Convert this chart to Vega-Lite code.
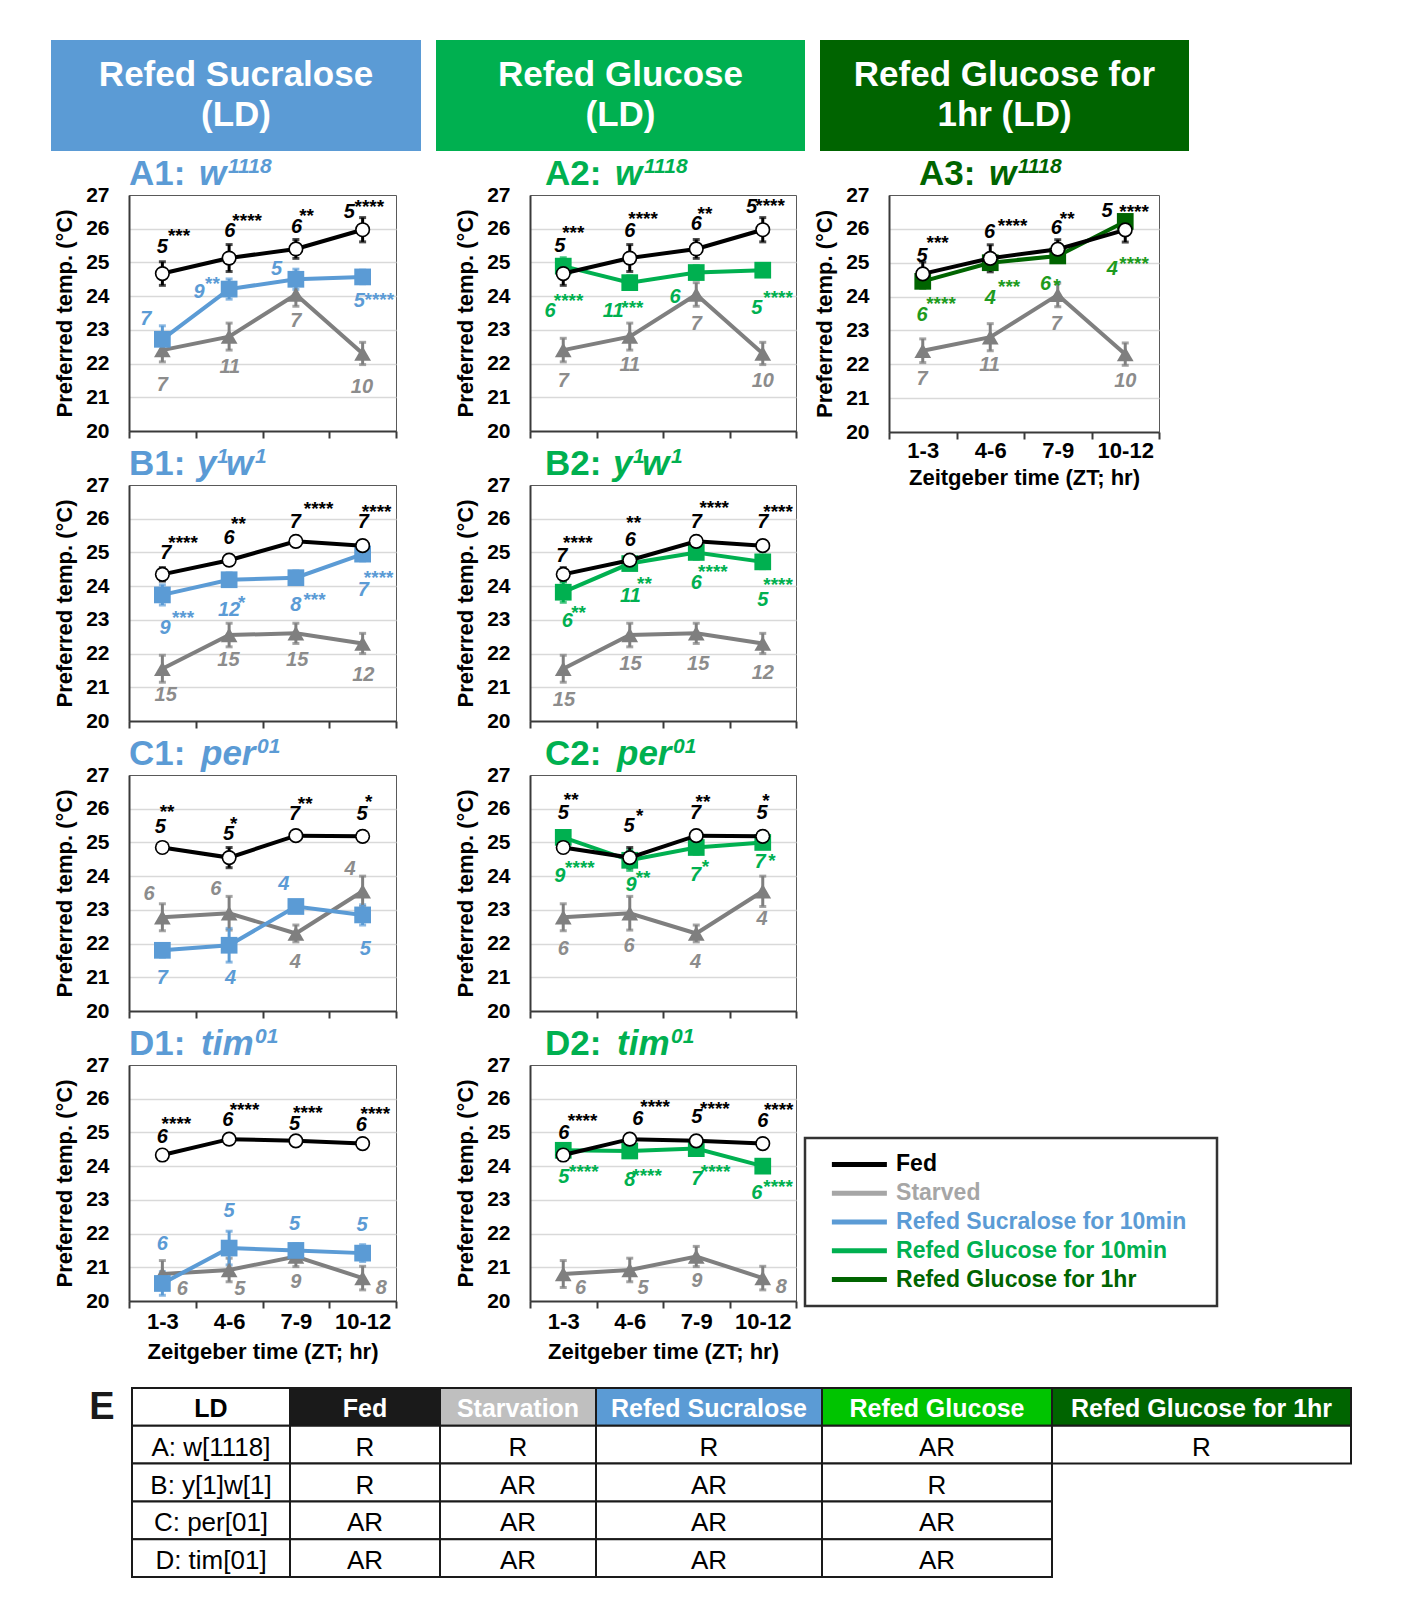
{
"$schema": "https://vega.github.io/schema/vega-lite/v6.json",
"background": "white",
"padding": {"left": 51, "top": 40, "right": 0, "bottom": 0},
"config": {
  "font": "Liberation Sans",
  "view": {"stroke": "#595959", "strokeWidth": 1},
  "axis": {"labelFont": "Liberation Sans", "titleFont": "Liberation Sans", "labelFontWeight": "bold", "titleFontWeight": "bold", "labelColor": "#000000", "titleColor": "#000000", "domainColor": "#3a3a3a", "domainWidth": 2},
  "axisY": {"labelFontSize": 21, "titleFontSize": 22, "labelPadding": 20, "ticks": false, "tickSize": 0, "grid": true, "gridColor": "#d9d9d9", "gridWidth": 1.5, "titleAngle": 270, "titleBaseline": "bottom", "titlePadding": 0},
  "axisX": {"labelFontSize": 22, "titleFontSize": 22, "labelPadding": 3, "ticks": true, "tickSize": 7, "tickWidth": 2, "tickColor": "#3a3a3a", "grid": false, "labelFlush": false, "labelOverlap": false, "labelAngle": 0, "labelBaseline": "top"}
},
"datasets": {
"all": [
{"p":"A1","k":"pt","s":"Fed","x":1,"y":24.67,"e":0.35},
{"p":"A1","k":"pt","s":"Fed","x":2,"y":25.13,"e":0.4},
{"p":"A1","k":"pt","s":"Fed","x":3,"y":25.4,"e":0.28},
{"p":"A1","k":"pt","s":"Fed","x":4,"y":25.97,"e":0.36},
{"p":"A1","k":"pt","s":"Starved","x":1,"y":22.4,"e":0.35},
{"p":"A1","k":"pt","s":"Starved","x":2,"y":22.8,"e":0.4},
{"p":"A1","k":"pt","s":"Starved","x":3,"y":24.05,"e":0.35},
{"p":"A1","k":"pt","s":"Starved","x":4,"y":22.3,"e":0.33},
{"p":"A1","k":"pt","s":"Sucralose","x":1,"y":22.72,"e":0.4},
{"p":"A1","k":"pt","s":"Sucralose","x":2,"y":24.21,"e":0.3},
{"p":"A1","k":"pt","s":"Sucralose","x":3,"y":24.5,"e":0.3},
{"p":"A1","k":"pt","s":"Sucralose","x":4,"y":24.57,"e":0.2},
{"p":"A1","k":"n","s":"Fed","x":1.0,"y":25.45,"txt":"5"},
{"p":"A1","k":"n","s":"Fed","x":2.01,"y":25.94,"txt":"6"},
{"p":"A1","k":"n","s":"Fed","x":3.01,"y":26.06,"txt":"6"},
{"p":"A1","k":"n","s":"Fed","x":3.8,"y":26.49,"txt":"5"},
{"p":"A1","k":"st","s":"Fed","x":1.25,"y":25.94,"txt":"***"},
{"p":"A1","k":"st","s":"Fed","x":2.27,"y":26.39,"txt":"****"},
{"p":"A1","k":"st","s":"Fed","x":3.16,"y":26.53,"txt":"**"},
{"p":"A1","k":"st","s":"Fed","x":4.1,"y":26.78,"txt":"****"},
{"p":"A1","k":"n","s":"Sucralose","x":0.75,"y":23.32,"txt":"7"},
{"p":"A1","k":"n","s":"Sucralose","x":1.55,"y":24.11,"txt":"9"},
{"p":"A1","k":"n","s":"Sucralose","x":2.71,"y":24.8,"txt":"5"},
{"p":"A1","k":"n","s":"Sucralose","x":3.95,"y":23.86,"txt":"5"},
{"p":"A1","k":"st","s":"Sucralose","x":1.75,"y":24.5,"txt":"**"},
{"p":"A1","k":"st","s":"Sucralose","x":4.25,"y":24.03,"txt":"****"},
{"p":"A1","k":"n","s":"Starved","x":1.0,"y":21.37,"txt":"7"},
{"p":"A1","k":"n","s":"Starved","x":2.01,"y":21.91,"txt":"11"},
{"p":"A1","k":"n","s":"Starved","x":3.0,"y":23.27,"txt":"7"},
{"p":"A1","k":"n","s":"Starved","x":3.99,"y":21.31,"txt":"10"},
{"p":"A1","k":"pre","txt":"A1:","x":0.5,"y":27},
{"p":"A1","k":"g","txt":"w","x":0.5,"y":27},
{"p":"A1","k":"sup","txt":"1118","x":0.5,"y":27},

{"p":"A2","k":"pt","s":"Fed","x":1,"y":24.67,"e":0.35},
{"p":"A2","k":"pt","s":"Fed","x":2,"y":25.13,"e":0.4},
{"p":"A2","k":"pt","s":"Fed","x":3,"y":25.4,"e":0.28},
{"p":"A2","k":"pt","s":"Fed","x":4,"y":25.97,"e":0.36},
{"p":"A2","k":"pt","s":"Starved","x":1,"y":22.4,"e":0.35},
{"p":"A2","k":"pt","s":"Starved","x":2,"y":22.8,"e":0.4},
{"p":"A2","k":"pt","s":"Starved","x":3,"y":24.05,"e":0.35},
{"p":"A2","k":"pt","s":"Starved","x":4,"y":22.3,"e":0.33},
{"p":"A2","k":"pt","s":"Glucose","x":1,"y":24.89,"e":0.25},
{"p":"A2","k":"pt","s":"Glucose","x":2,"y":24.4,"e":0.2},
{"p":"A2","k":"pt","s":"Glucose","x":3,"y":24.7,"e":0.2},
{"p":"A2","k":"pt","s":"Glucose","x":4,"y":24.77,"e":0.15},
{"p":"A2","k":"n","s":"Fed","x":0.95,"y":25.49,"txt":"5"},
{"p":"A2","k":"n","s":"Fed","x":2.0,"y":25.94,"txt":"6"},
{"p":"A2","k":"n","s":"Fed","x":3.0,"y":26.14,"txt":"6"},
{"p":"A2","k":"n","s":"Fed","x":3.83,"y":26.63,"txt":"5"},
{"p":"A2","k":"st","s":"Fed","x":1.15,"y":26.02,"txt":"***"},
{"p":"A2","k":"st","s":"Fed","x":2.2,"y":26.43,"txt":"****"},
{"p":"A2","k":"st","s":"Fed","x":3.13,"y":26.58,"txt":"**"},
{"p":"A2","k":"st","s":"Fed","x":4.11,"y":26.81,"txt":"****"},
{"p":"A2","k":"n","s":"Glucose","x":0.8,"y":23.57,"txt":"6"},
{"p":"A2","k":"n","s":"Glucose","x":1.75,"y":23.57,"txt":"11"},
{"p":"A2","k":"n","s":"Glucose","x":2.68,"y":23.97,"txt":"6"},
{"p":"A2","k":"n","s":"Glucose","x":3.91,"y":23.65,"txt":"5"},
{"p":"A2","k":"st","s":"Glucose","x":1.08,"y":24.0,"txt":"****"},
{"p":"A2","k":"st","s":"Glucose","x":2.04,"y":23.8,"txt":"***"},
{"p":"A2","k":"st","s":"Glucose","x":4.23,"y":24.1,"txt":"****"},
{"p":"A2","k":"n","s":"Starved","x":1.0,"y":21.47,"txt":"7"},
{"p":"A2","k":"n","s":"Starved","x":2.0,"y":21.97,"txt":"11"},
{"p":"A2","k":"n","s":"Starved","x":3.0,"y":23.18,"txt":"7"},
{"p":"A2","k":"n","s":"Starved","x":4.0,"y":21.49,"txt":"10"},
{"p":"A2","k":"pre","txt":"A2:","x":0.5,"y":27},
{"p":"A2","k":"g","txt":"w","x":0.5,"y":27},
{"p":"A2","k":"sup","txt":"1118","x":0.5,"y":27},

{"p":"A3","k":"pt","s":"Fed","x":1,"y":24.67,"e":0.35},
{"p":"A3","k":"pt","s":"Fed","x":2,"y":25.13,"e":0.4},
{"p":"A3","k":"pt","s":"Fed","x":3,"y":25.4,"e":0.28},
{"p":"A3","k":"pt","s":"Fed","x":4,"y":25.97,"e":0.36},
{"p":"A3","k":"pt","s":"Starved","x":1,"y":22.4,"e":0.35},
{"p":"A3","k":"pt","s":"Starved","x":2,"y":22.8,"e":0.4},
{"p":"A3","k":"pt","s":"Starved","x":3,"y":24.05,"e":0.35},
{"p":"A3","k":"pt","s":"Starved","x":4,"y":22.3,"e":0.33},
{"p":"A3","k":"pt","s":"Glucose1hr","x":1,"y":24.45,"e":0.2},
{"p":"A3","k":"pt","s":"Glucose1hr","x":2,"y":25.0,"e":0.2},
{"p":"A3","k":"pt","s":"Glucose1hr","x":3,"y":25.2,"e":0.15},
{"p":"A3","k":"pt","s":"Glucose1hr","x":4,"y":26.22,"e":0.15},
{"p":"A3","k":"n","s":"Fed","x":0.99,"y":25.21,"txt":"5"},
{"p":"A3","k":"n","s":"Fed","x":1.99,"y":25.9,"txt":"6"},
{"p":"A3","k":"n","s":"Fed","x":2.98,"y":26.04,"txt":"6"},
{"p":"A3","k":"n","s":"Fed","x":3.73,"y":26.54,"txt":"5"},
{"p":"A3","k":"st","s":"Fed","x":1.22,"y":25.72,"txt":"***"},
{"p":"A3","k":"st","s":"Fed","x":2.33,"y":26.24,"txt":"****"},
{"p":"A3","k":"st","s":"Fed","x":3.14,"y":26.44,"txt":"**"},
{"p":"A3","k":"st","s":"Fed","x":4.13,"y":26.66,"txt":"****"},
{"p":"A3","k":"n","s":"Glucose1hr","x":0.99,"y":23.45,"txt":"6"},
{"p":"A3","k":"n","s":"Glucose1hr","x":2.0,"y":23.97,"txt":"4"},
{"p":"A3","k":"n","s":"Glucose1hr","x":2.82,"y":24.37,"txt":"6"},
{"p":"A3","k":"n","s":"Glucose1hr","x":3.81,"y":24.81,"txt":"4"},
{"p":"A3","k":"st","s":"Glucose1hr","x":1.27,"y":23.92,"txt":"****"},
{"p":"A3","k":"st","s":"Glucose1hr","x":2.28,"y":24.42,"txt":"***"},
{"p":"A3","k":"st","s":"Glucose1hr","x":2.99,"y":24.47,"txt":"*"},
{"p":"A3","k":"st","s":"Glucose1hr","x":4.13,"y":25.1,"txt":"****"},
{"p":"A3","k":"n","s":"Starved","x":0.99,"y":21.56,"txt":"7"},
{"p":"A3","k":"n","s":"Starved","x":1.99,"y":21.97,"txt":"11"},
{"p":"A3","k":"n","s":"Starved","x":2.98,"y":23.18,"txt":"7"},
{"p":"A3","k":"n","s":"Starved","x":4.0,"y":21.51,"txt":"10"},
{"p":"A3","k":"pre","txt":"A3:","x":0.5,"y":27},
{"p":"A3","k":"g","txt":"w","x":0.5,"y":27},
{"p":"A3","k":"sup","txt":"1118","x":0.5,"y":27},

{"p":"B1","k":"pt","s":"Fed","x":1,"y":24.35,"e":0.2},
{"p":"B1","k":"pt","s":"Fed","x":2,"y":24.77,"e":0.15},
{"p":"B1","k":"pt","s":"Fed","x":3,"y":25.33,"e":0.15},
{"p":"B1","k":"pt","s":"Fed","x":4,"y":25.2,"e":0.15},
{"p":"B1","k":"pt","s":"Starved","x":1,"y":21.55,"e":0.4},
{"p":"B1","k":"pt","s":"Starved","x":2,"y":22.55,"e":0.35},
{"p":"B1","k":"pt","s":"Starved","x":3,"y":22.6,"e":0.3},
{"p":"B1","k":"pt","s":"Starved","x":4,"y":22.3,"e":0.3},
{"p":"B1","k":"pt","s":"Sucralose","x":1,"y":23.74,"e":0.3},
{"p":"B1","k":"pt","s":"Sucralose","x":2,"y":24.19,"e":0.2},
{"p":"B1","k":"pt","s":"Sucralose","x":3,"y":24.25,"e":0.2},
{"p":"B1","k":"pt","s":"Sucralose","x":4,"y":24.95,"e":0.2},
{"p":"B1","k":"n","s":"Fed","x":1.05,"y":24.97,"txt":"7"},
{"p":"B1","k":"n","s":"Fed","x":2.0,"y":25.42,"txt":"6"},
{"p":"B1","k":"n","s":"Fed","x":2.99,"y":25.91,"txt":"7"},
{"p":"B1","k":"n","s":"Fed","x":4.01,"y":25.91,"txt":"7"},
{"p":"B1","k":"st","s":"Fed","x":1.31,"y":25.44,"txt":"****"},
{"p":"B1","k":"st","s":"Fed","x":2.14,"y":25.99,"txt":"**"},
{"p":"B1","k":"st","s":"Fed","x":3.34,"y":26.43,"txt":"****"},
{"p":"B1","k":"st","s":"Fed","x":4.21,"y":26.36,"txt":"****"},
{"p":"B1","k":"n","s":"Sucralose","x":1.04,"y":22.75,"txt":"9"},
{"p":"B1","k":"n","s":"Sucralose","x":2.0,"y":23.29,"txt":"12"},
{"p":"B1","k":"n","s":"Sucralose","x":3.0,"y":23.44,"txt":"8"},
{"p":"B1","k":"n","s":"Sucralose","x":4.01,"y":23.88,"txt":"7"},
{"p":"B1","k":"st","s":"Sucralose","x":1.31,"y":23.19,"txt":"***"},
{"p":"B1","k":"st","s":"Sucralose","x":2.19,"y":23.64,"txt":"*"},
{"p":"B1","k":"st","s":"Sucralose","x":3.28,"y":23.74,"txt":"***"},
{"p":"B1","k":"st","s":"Sucralose","x":4.24,"y":24.38,"txt":"****"},
{"p":"B1","k":"n","s":"Starved","x":1.05,"y":20.77,"txt":"15"},
{"p":"B1","k":"n","s":"Starved","x":1.99,"y":21.81,"txt":"15"},
{"p":"B1","k":"n","s":"Starved","x":3.02,"y":21.81,"txt":"15"},
{"p":"B1","k":"n","s":"Starved","x":4.01,"y":21.36,"txt":"12"},
{"p":"B1","k":"pre","txt":"B1:","x":0.5,"y":27},
{"p":"B1","k":"g","txt":"y","x":0.5,"y":27},
{"p":"B1","k":"sup","txt":"1","x":0.5,"y":27},
{"p":"B1","k":"g2","txt":"w","x":0.5,"y":27},
{"p":"B1","k":"sup2","txt":"1","x":0.5,"y":27},

{"p":"B2","k":"pt","s":"Fed","x":1,"y":24.35,"e":0.2},
{"p":"B2","k":"pt","s":"Fed","x":2,"y":24.77,"e":0.15},
{"p":"B2","k":"pt","s":"Fed","x":3,"y":25.33,"e":0.15},
{"p":"B2","k":"pt","s":"Fed","x":4,"y":25.2,"e":0.15},
{"p":"B2","k":"pt","s":"Starved","x":1,"y":21.55,"e":0.4},
{"p":"B2","k":"pt","s":"Starved","x":2,"y":22.55,"e":0.35},
{"p":"B2","k":"pt","s":"Starved","x":3,"y":22.6,"e":0.3},
{"p":"B2","k":"pt","s":"Starved","x":4,"y":22.3,"e":0.3},
{"p":"B2","k":"pt","s":"Glucose","x":1,"y":23.82,"e":0.3},
{"p":"B2","k":"pt","s":"Glucose","x":2,"y":24.67,"e":0.15},
{"p":"B2","k":"pt","s":"Glucose","x":3,"y":25.0,"e":0.2},
{"p":"B2","k":"pt","s":"Glucose","x":4,"y":24.72,"e":0.2},
{"p":"B2","k":"n","s":"Fed","x":0.98,"y":24.89,"txt":"7"},
{"p":"B2","k":"n","s":"Fed","x":2.01,"y":25.37,"txt":"6"},
{"p":"B2","k":"n","s":"Fed","x":3.0,"y":25.89,"txt":"7"},
{"p":"B2","k":"n","s":"Fed","x":4.0,"y":25.89,"txt":"7"},
{"p":"B2","k":"st","s":"Fed","x":1.22,"y":25.44,"txt":"****"},
{"p":"B2","k":"st","s":"Fed","x":2.06,"y":26.02,"txt":"**"},
{"p":"B2","k":"st","s":"Fed","x":3.27,"y":26.46,"txt":"****"},
{"p":"B2","k":"st","s":"Fed","x":4.23,"y":26.35,"txt":"****"},
{"p":"B2","k":"n","s":"Glucose","x":1.06,"y":22.96,"txt":"6"},
{"p":"B2","k":"n","s":"Glucose","x":2.01,"y":23.7,"txt":"11"},
{"p":"B2","k":"n","s":"Glucose","x":3.0,"y":24.1,"txt":"6"},
{"p":"B2","k":"n","s":"Glucose","x":4.0,"y":23.6,"txt":"5"},
{"p":"B2","k":"st","s":"Glucose","x":1.23,"y":23.36,"txt":"**"},
{"p":"B2","k":"st","s":"Glucose","x":2.22,"y":24.2,"txt":"**"},
{"p":"B2","k":"st","s":"Glucose","x":3.25,"y":24.57,"txt":"****"},
{"p":"B2","k":"st","s":"Glucose","x":4.23,"y":24.17,"txt":"****"},
{"p":"B2","k":"n","s":"Starved","x":1.01,"y":20.62,"txt":"15"},
{"p":"B2","k":"n","s":"Starved","x":2.01,"y":21.69,"txt":"15"},
{"p":"B2","k":"n","s":"Starved","x":3.03,"y":21.69,"txt":"15"},
{"p":"B2","k":"n","s":"Starved","x":4.0,"y":21.42,"txt":"12"},
{"p":"B2","k":"pre","txt":"B2:","x":0.5,"y":27},
{"p":"B2","k":"g","txt":"y","x":0.5,"y":27},
{"p":"B2","k":"sup","txt":"1","x":0.5,"y":27},
{"p":"B2","k":"g2","txt":"w","x":0.5,"y":27},
{"p":"B2","k":"sup2","txt":"1","x":0.5,"y":27},

{"p":"C1","k":"pt","s":"Fed","x":1,"y":24.85,"e":0.15},
{"p":"C1","k":"pt","s":"Fed","x":2,"y":24.55,"e":0.3},
{"p":"C1","k":"pt","s":"Fed","x":3,"y":25.2,"e":0.1},
{"p":"C1","k":"pt","s":"Fed","x":4,"y":25.18,"e":0.15},
{"p":"C1","k":"pt","s":"Starved","x":1,"y":22.78,"e":0.4},
{"p":"C1","k":"pt","s":"Starved","x":2,"y":22.9,"e":0.5},
{"p":"C1","k":"pt","s":"Starved","x":3,"y":22.3,"e":0.25},
{"p":"C1","k":"pt","s":"Starved","x":4,"y":23.55,"e":0.45},
{"p":"C1","k":"pt","s":"Sucralose","x":1,"y":21.8,"e":0.2},
{"p":"C1","k":"pt","s":"Sucralose","x":2,"y":21.95,"e":0.5},
{"p":"C1","k":"pt","s":"Sucralose","x":3,"y":23.1,"e":0.15},
{"p":"C1","k":"pt","s":"Sucralose","x":4,"y":22.85,"e":0.3},
{"p":"C1","k":"n","s":"Fed","x":0.97,"y":25.45,"txt":"5"},
{"p":"C1","k":"n","s":"Fed","x":1.99,"y":25.25,"txt":"5"},
{"p":"C1","k":"n","s":"Fed","x":2.98,"y":25.84,"txt":"7"},
{"p":"C1","k":"n","s":"Fed","x":3.99,"y":25.84,"txt":"5"},
{"p":"C1","k":"st","s":"Fed","x":1.07,"y":26.04,"txt":"**"},
{"p":"C1","k":"st","s":"Fed","x":2.07,"y":25.69,"txt":"*"},
{"p":"C1","k":"st","s":"Fed","x":3.14,"y":26.29,"txt":"**"},
{"p":"C1","k":"st","s":"Fed","x":4.09,"y":26.34,"txt":"*"},
{"p":"C1","k":"n","s":"Sucralose","x":1.0,"y":20.99,"txt":"7"},
{"p":"C1","k":"n","s":"Sucralose","x":2.02,"y":20.99,"txt":"4"},
{"p":"C1","k":"n","s":"Sucralose","x":2.82,"y":23.76,"txt":"4"},
{"p":"C1","k":"n","s":"Sucralose","x":4.04,"y":21.83,"txt":"5"},
{"p":"C1","k":"n","s":"Starved","x":0.8,"y":23.47,"txt":"6"},
{"p":"C1","k":"n","s":"Starved","x":1.8,"y":23.61,"txt":"6"},
{"p":"C1","k":"n","s":"Starved","x":2.99,"y":21.44,"txt":"4"},
{"p":"C1","k":"n","s":"Starved","x":3.81,"y":24.21,"txt":"4"},
{"p":"C1","k":"pre","txt":"C1:","x":0.5,"y":27},
{"p":"C1","k":"g","txt":"per","x":0.5,"y":27},
{"p":"C1","k":"sup","txt":"01","x":0.5,"y":27},

{"p":"C2","k":"pt","s":"Fed","x":1,"y":24.85,"e":0.15},
{"p":"C2","k":"pt","s":"Fed","x":2,"y":24.55,"e":0.3},
{"p":"C2","k":"pt","s":"Fed","x":3,"y":25.2,"e":0.1},
{"p":"C2","k":"pt","s":"Fed","x":4,"y":25.18,"e":0.15},
{"p":"C2","k":"pt","s":"Starved","x":1,"y":22.78,"e":0.4},
{"p":"C2","k":"pt","s":"Starved","x":2,"y":22.9,"e":0.5},
{"p":"C2","k":"pt","s":"Starved","x":3,"y":22.3,"e":0.25},
{"p":"C2","k":"pt","s":"Starved","x":4,"y":23.55,"e":0.45},
{"p":"C2","k":"pt","s":"Glucose","x":1,"y":25.15,"e":0.2},
{"p":"C2","k":"pt","s":"Glucose","x":2,"y":24.47,"e":0.3},
{"p":"C2","k":"pt","s":"Glucose","x":3,"y":24.85,"e":0.2},
{"p":"C2","k":"pt","s":"Glucose","x":4,"y":25.0,"e":0.15},
{"p":"C2","k":"n","s":"Fed","x":1.0,"y":25.88,"txt":"5"},
{"p":"C2","k":"n","s":"Fed","x":1.99,"y":25.48,"txt":"5"},
{"p":"C2","k":"n","s":"Fed","x":2.99,"y":25.88,"txt":"7"},
{"p":"C2","k":"n","s":"Fed","x":3.99,"y":25.88,"txt":"5"},
{"p":"C2","k":"st","s":"Fed","x":1.12,"y":26.4,"txt":"**"},
{"p":"C2","k":"st","s":"Fed","x":2.15,"y":25.93,"txt":"*"},
{"p":"C2","k":"st","s":"Fed","x":3.1,"y":26.36,"txt":"**"},
{"p":"C2","k":"st","s":"Fed","x":4.05,"y":26.38,"txt":"*"},
{"p":"C2","k":"n","s":"Glucose","x":0.95,"y":24.0,"txt":"9"},
{"p":"C2","k":"n","s":"Glucose","x":2.02,"y":23.73,"txt":"9"},
{"p":"C2","k":"n","s":"Glucose","x":2.99,"y":24.03,"txt":"7"},
{"p":"C2","k":"n","s":"Glucose","x":3.96,"y":24.43,"txt":"7"},
{"p":"C2","k":"st","s":"Glucose","x":1.25,"y":24.38,"txt":"****"},
{"p":"C2","k":"st","s":"Glucose","x":2.2,"y":24.08,"txt":"**"},
{"p":"C2","k":"st","s":"Glucose","x":3.14,"y":24.43,"txt":"*"},
{"p":"C2","k":"st","s":"Glucose","x":4.14,"y":24.6,"txt":"*"},
{"p":"C2","k":"n","s":"Starved","x":1.0,"y":21.83,"txt":"6"},
{"p":"C2","k":"n","s":"Starved","x":1.99,"y":21.93,"txt":"6"},
{"p":"C2","k":"n","s":"Starved","x":2.99,"y":21.46,"txt":"4"},
{"p":"C2","k":"n","s":"Starved","x":3.99,"y":22.73,"txt":"4"},
{"p":"C2","k":"pre","txt":"C2:","x":0.5,"y":27},
{"p":"C2","k":"g","txt":"per","x":0.5,"y":27},
{"p":"C2","k":"sup","txt":"01","x":0.5,"y":27},

{"p":"D1","k":"pt","s":"Fed","x":1,"y":24.33,"e":0.1},
{"p":"D1","k":"pt","s":"Fed","x":2,"y":24.8,"e":0.1},
{"p":"D1","k":"pt","s":"Fed","x":3,"y":24.75,"e":0.1},
{"p":"D1","k":"pt","s":"Fed","x":4,"y":24.67,"e":0.1},
{"p":"D1","k":"pt","s":"Starved","x":1,"y":20.8,"e":0.4},
{"p":"D1","k":"pt","s":"Starved","x":2,"y":20.92,"e":0.35},
{"p":"D1","k":"pt","s":"Starved","x":3,"y":21.32,"e":0.3},
{"p":"D1","k":"pt","s":"Starved","x":4,"y":20.68,"e":0.35},
{"p":"D1","k":"pt","s":"Sucralose","x":1,"y":20.52,"e":0.35},
{"p":"D1","k":"pt","s":"Sucralose","x":2,"y":21.57,"e":0.5},
{"p":"D1","k":"pt","s":"Sucralose","x":3,"y":21.5,"e":0.2},
{"p":"D1","k":"pt","s":"Sucralose","x":4,"y":21.42,"e":0.25},
{"p":"D1","k":"n","s":"Fed","x":1.0,"y":24.86,"txt":"6"},
{"p":"D1","k":"n","s":"Fed","x":1.98,"y":25.36,"txt":"6"},
{"p":"D1","k":"n","s":"Fed","x":2.98,"y":25.26,"txt":"5"},
{"p":"D1","k":"n","s":"Fed","x":3.98,"y":25.21,"txt":"6"},
{"p":"D1","k":"st","s":"Fed","x":1.21,"y":25.39,"txt":"****"},
{"p":"D1","k":"st","s":"Fed","x":2.23,"y":25.81,"txt":"****"},
{"p":"D1","k":"st","s":"Fed","x":3.18,"y":25.73,"txt":"****"},
{"p":"D1","k":"st","s":"Fed","x":4.19,"y":25.69,"txt":"****"},
{"p":"D1","k":"n","s":"Sucralose","x":1.0,"y":21.69,"txt":"6"},
{"p":"D1","k":"n","s":"Sucralose","x":2.0,"y":22.68,"txt":"5"},
{"p":"D1","k":"n","s":"Sucralose","x":2.98,"y":22.28,"txt":"5"},
{"p":"D1","k":"n","s":"Sucralose","x":3.99,"y":22.25,"txt":"5"},
{"p":"D1","k":"n","s":"Starved","x":1.3,"y":20.35,"txt":"6"},
{"p":"D1","k":"n","s":"Starved","x":2.16,"y":20.35,"txt":"5"},
{"p":"D1","k":"n","s":"Starved","x":3.0,"y":20.55,"txt":"9"},
{"p":"D1","k":"n","s":"Starved","x":4.28,"y":20.4,"txt":"8"},
{"p":"D1","k":"pre","txt":"D1:","x":0.5,"y":27},
{"p":"D1","k":"g","txt":"tim","x":0.5,"y":27},
{"p":"D1","k":"sup","txt":"01","x":0.5,"y":27},

{"p":"D2","k":"pt","s":"Fed","x":1,"y":24.33,"e":0.1},
{"p":"D2","k":"pt","s":"Fed","x":2,"y":24.8,"e":0.1},
{"p":"D2","k":"pt","s":"Fed","x":3,"y":24.75,"e":0.1},
{"p":"D2","k":"pt","s":"Fed","x":4,"y":24.67,"e":0.1},
{"p":"D2","k":"pt","s":"Starved","x":1,"y":20.8,"e":0.4},
{"p":"D2","k":"pt","s":"Starved","x":2,"y":20.92,"e":0.35},
{"p":"D2","k":"pt","s":"Starved","x":3,"y":21.32,"e":0.3},
{"p":"D2","k":"pt","s":"Starved","x":4,"y":20.68,"e":0.35},
{"p":"D2","k":"pt","s":"Glucose","x":1,"y":24.47,"e":0.15},
{"p":"D2","k":"pt","s":"Glucose","x":2,"y":24.45,"e":0.15},
{"p":"D2","k":"pt","s":"Glucose","x":3,"y":24.52,"e":0.15},
{"p":"D2","k":"pt","s":"Glucose","x":4,"y":24.0,"e":0.15},
{"p":"D2","k":"n","s":"Fed","x":1.01,"y":24.99,"txt":"6"},
{"p":"D2","k":"n","s":"Fed","x":2.12,"y":25.4,"txt":"6"},
{"p":"D2","k":"n","s":"Fed","x":3.01,"y":25.47,"txt":"5"},
{"p":"D2","k":"n","s":"Fed","x":4.0,"y":25.35,"txt":"6"},
{"p":"D2","k":"st","s":"Fed","x":1.29,"y":25.48,"txt":"****"},
{"p":"D2","k":"st","s":"Fed","x":2.38,"y":25.9,"txt":"****"},
{"p":"D2","k":"st","s":"Fed","x":3.28,"y":25.85,"txt":"****"},
{"p":"D2","k":"st","s":"Fed","x":4.24,"y":25.82,"txt":"****"},
{"p":"D2","k":"n","s":"Glucose","x":1.01,"y":23.69,"txt":"5"},
{"p":"D2","k":"n","s":"Glucose","x":2.0,"y":23.59,"txt":"8"},
{"p":"D2","k":"n","s":"Glucose","x":3.01,"y":23.61,"txt":"7"},
{"p":"D2","k":"n","s":"Glucose","x":3.91,"y":23.19,"txt":"6"},
{"p":"D2","k":"st","s":"Glucose","x":1.31,"y":23.97,"txt":"****"},
{"p":"D2","k":"st","s":"Glucose","x":2.26,"y":23.87,"txt":"****"},
{"p":"D2","k":"st","s":"Glucose","x":3.29,"y":23.97,"txt":"****"},
{"p":"D2","k":"st","s":"Glucose","x":4.23,"y":23.54,"txt":"****"},
{"p":"D2","k":"n","s":"Starved","x":1.26,"y":20.38,"txt":"6"},
{"p":"D2","k":"n","s":"Starved","x":2.2,"y":20.38,"txt":"5"},
{"p":"D2","k":"n","s":"Starved","x":3.01,"y":20.58,"txt":"9"},
{"p":"D2","k":"n","s":"Starved","x":4.28,"y":20.43,"txt":"8"},
{"p":"D2","k":"pre","txt":"D2:","x":0.5,"y":27},
{"p":"D2","k":"g","txt":"tim","x":0.5,"y":27},
{"p":"D2","k":"sup","txt":"01","x":0.5,"y":27}
],
"tbl": [
{"col":"LD","row":"h","txt":"LD"},
{"col":"LD","row":"A","txt":"A: w[1118]"},
{"col":"LD","row":"B","txt":"B: y[1]w[1]"},
{"col":"LD","row":"C","txt":"C: per[01]"},
{"col":"LD","row":"D","txt":"D: tim[01]"},
{"col":"Fed","row":"h","txt":"Fed"},
{"col":"Fed","row":"A","txt":"R"},
{"col":"Fed","row":"B","txt":"R"},
{"col":"Fed","row":"C","txt":"AR"},
{"col":"Fed","row":"D","txt":"AR"},
{"col":"Starvation","row":"h","txt":"Starvation"},
{"col":"Starvation","row":"A","txt":"R"},
{"col":"Starvation","row":"B","txt":"AR"},
{"col":"Starvation","row":"C","txt":"AR"},
{"col":"Starvation","row":"D","txt":"AR"},
{"col":"Sucralose","row":"h","txt":"Refed Sucralose"},
{"col":"Sucralose","row":"A","txt":"R"},
{"col":"Sucralose","row":"B","txt":"AR"},
{"col":"Sucralose","row":"C","txt":"AR"},
{"col":"Sucralose","row":"D","txt":"AR"},
{"col":"Glucose","row":"h","txt":"Refed Glucose"},
{"col":"Glucose","row":"A","txt":"AR"},
{"col":"Glucose","row":"B","txt":"R"},
{"col":"Glucose","row":"C","txt":"AR"},
{"col":"Glucose","row":"D","txt":"AR"},
{"col":"Glucose1hr","row":"h","txt":"Refed Glucose for 1hr"},
{"col":"Glucose1hr","row":"A","txt":"R"}
]
},
"spacing": 4,
"vconcat": [
{
 "spacing": 15,
 "hconcat": [
  {"width": 370, "height": 111, "view": {"fill": "#5b9bd5", "stroke": null}, "data": {"values": [{"txt": "Refed Sucralose\n(LD)"}]}, "mark": {"type": "text", "color": "#ffffff", "fontSize": 35, "fontWeight": "bold", "lineBreak": "\n", "lineHeight": 40, "align": "center", "baseline": "middle", "dy": -21}, "encoding": {"text": {"field": "txt"}}},
  {"width": 369, "height": 111, "view": {"fill": "#00b050", "stroke": null}, "data": {"values": [{"txt": "Refed Glucose\n(LD)"}]}, "mark": {"type": "text", "color": "#ffffff", "fontSize": 35, "fontWeight": "bold", "lineBreak": "\n", "lineHeight": 40, "align": "center", "baseline": "middle", "dy": -21}, "encoding": {"text": {"field": "txt"}}},
  {"width": 369, "height": 111, "view": {"fill": "#006400", "stroke": null}, "data": {"values": [{"txt": "Refed Glucose for\n1hr (LD)"}]}, "mark": {"type": "text", "color": "#ffffff", "fontSize": 35, "fontWeight": "bold", "lineBreak": "\n", "lineHeight": 40, "align": "center", "baseline": "middle", "dy": -21}, "encoding": {"text": {"field": "txt"}}}
 ]
},
{
 "spacing": 0,
 "hconcat": [
  {"width": 1, "height": 1, "view": {"stroke": null}, "data": {"values": [{"txt": ""}]}, "mark": {"type": "text"}, "encoding": {"text": {"field": "txt"}}},
  {
   "spacing": 54,
   "bounds": "flush",
   "vconcat": [
    {
     "width": 267, "height": 236,
     "data": {"name": "all"},
     "transform": [{"filter": "datum.p == 'A1'"}],
     "encoding": {
      "x": {"field": "x", "type": "quantitative", "scale": {"domain": [0.5, 4.5], "nice": false, "zero": false}, "axis": {"values": [0.5, 1.5, 2.5, 3.5, 4.5], "labels": false, "title": null}},
      "y": {"field": "y", "type": "quantitative", "scale": {"domain": [20, 27], "nice": false, "zero": false}, "axis": {"values": [20, 21, 22, 23, 24, 25, 26, 27], "title": "Preferred temp. (°C)", "titleX": -53, "gridOpacity": {"condition": {"test": "datum.value == 20 || datum.value == 27", "value": 0}, "value": 1}}}
     },
     "layer": [
      {"transform": [{"filter": "datum.k == 'pt'"}], "mark": {"type": "errorbar", "ticks": true, "size": 7, "thickness": 3}, "encoding": {"yError": {"field": "e"}, "color": {"field": "s", "type": "nominal", "scale": {"domain": ["Fed","Starved","Sucralose","Glucose","Glucose1hr"], "range": ["#000000","#7f7f7f","#5b9bd5","#00b050","#006400"]}, "legend": null}}},
      {"transform": [{"filter": "datum.k == 'pt' && datum.s != 'Fed'"}], "mark": {"type": "line", "strokeWidth": 4}, "encoding": {"color": {"field": "s", "type": "nominal", "legend": null}}},
      {"transform": [{"filter": "datum.k == 'pt' && datum.s != 'Fed'"}], "mark": {"type": "point", "filled": true, "opacity": 1, "size": 280}, "encoding": {"color": {"field": "s", "type": "nominal", "legend": null}, "shape": {"field": "s", "type": "nominal", "scale": {"domain": ["Fed","Starved","Sucralose","Glucose","Glucose1hr"], "range": ["circle","triangle-up","square","square","square"]}, "legend": null}}},
      {"transform": [{"filter": "datum.k == 'pt' && datum.s == 'Fed'"}], "mark": {"type": "line", "strokeWidth": 4, "color": "#000000"}},
      {"transform": [{"filter": "datum.k == 'pt' && datum.s == 'Fed'"}], "mark": {"type": "point", "shape": "circle", "filled": true, "opacity": 1, "size": 230, "color": "#000000"}},
      {"transform": [{"filter": "datum.k == 'pt' && datum.s == 'Fed'"}], "mark": {"type": "point", "shape": "circle", "filled": true, "opacity": 1, "size": 140, "color": "#ffffff"}},
      {"transform": [{"filter": "datum.k == 'n'"}], "mark": {"type": "text", "fontSize": 20, "fontWeight": "bold", "fontStyle": "italic"}, "encoding": {"text": {"field": "txt"}, "fill": {"field": "s", "type": "nominal", "scale": {"domain": ["Fed","Starved","Sucralose","Glucose","Glucose1hr"], "range": ["#000000","#8c8c8c","#5b9bd5","#00b050","#1e9b1e"]}, "legend": null}}},
      {"transform": [{"filter": "datum.k == 'st'"}], "mark": {"type": "text", "fontSize": 19, "fontWeight": "bold", "dy": 5}, "encoding": {"text": {"field": "txt"}, "fill": {"field": "s", "type": "nominal", "legend": null}}},
      {"transform": [{"filter": "datum.k == 'pre'"}], "mark": {"type": "text", "align": "left", "baseline": "top", "fontSize": 35, "fontWeight": "bold", "color": "#5b9bd5", "dx": 0, "dy": -38}, "encoding": {"text": {"field": "txt"}}},
      {"transform": [{"filter": "datum.k == 'g'"}], "mark": {"type": "text", "align": "left", "baseline": "top", "fontSize": 35, "fontWeight": "bold", "fontStyle": "italic", "color": "#5b9bd5", "dx": 70, "dy": -38}, "encoding": {"text": {"field": "txt"}}},
      {"transform": [{"filter": "datum.k == 'sup'"}], "mark": {"type": "text", "align": "left", "baseline": "top", "fontSize": 21, "fontWeight": "bold", "fontStyle": "italic", "color": "#5b9bd5", "dx": 99, "dy": -39}, "encoding": {"text": {"field": "txt"}}}
     ]
    },
    {
     "width": 267, "height": 236,
     "data": {"name": "all"},
     "transform": [{"filter": "datum.p == 'B1'"}],
     "encoding": {
      "x": {"field": "x", "type": "quantitative", "scale": {"domain": [0.5, 4.5], "nice": false, "zero": false}, "axis": {"values": [0.5, 1.5, 2.5, 3.5, 4.5], "labels": false, "title": null}},
      "y": {"field": "y", "type": "quantitative", "scale": {"domain": [20, 27], "nice": false, "zero": false}, "axis": {"values": [20, 21, 22, 23, 24, 25, 26, 27], "title": "Preferred temp. (°C)", "titleX": -53, "gridOpacity": {"condition": {"test": "datum.value == 20 || datum.value == 27", "value": 0}, "value": 1}}}
     },
     "layer": [
      {"transform": [{"filter": "datum.k == 'pt'"}], "mark": {"type": "errorbar", "ticks": true, "size": 7, "thickness": 3}, "encoding": {"yError": {"field": "e"}, "color": {"field": "s", "type": "nominal", "scale": {"domain": ["Fed","Starved","Sucralose","Glucose","Glucose1hr"], "range": ["#000000","#7f7f7f","#5b9bd5","#00b050","#006400"]}, "legend": null}}},
      {"transform": [{"filter": "datum.k == 'pt' && datum.s != 'Fed'"}], "mark": {"type": "line", "strokeWidth": 4}, "encoding": {"color": {"field": "s", "type": "nominal", "legend": null}}},
      {"transform": [{"filter": "datum.k == 'pt' && datum.s != 'Fed'"}], "mark": {"type": "point", "filled": true, "opacity": 1, "size": 280}, "encoding": {"color": {"field": "s", "type": "nominal", "legend": null}, "shape": {"field": "s", "type": "nominal", "scale": {"domain": ["Fed","Starved","Sucralose","Glucose","Glucose1hr"], "range": ["circle","triangle-up","square","square","square"]}, "legend": null}}},
      {"transform": [{"filter": "datum.k == 'pt' && datum.s == 'Fed'"}], "mark": {"type": "line", "strokeWidth": 4, "color": "#000000"}},
      {"transform": [{"filter": "datum.k == 'pt' && datum.s == 'Fed'"}], "mark": {"type": "point", "shape": "circle", "filled": true, "opacity": 1, "size": 230, "color": "#000000"}},
      {"transform": [{"filter": "datum.k == 'pt' && datum.s == 'Fed'"}], "mark": {"type": "point", "shape": "circle", "filled": true, "opacity": 1, "size": 140, "color": "#ffffff"}},
      {"transform": [{"filter": "datum.k == 'n'"}], "mark": {"type": "text", "fontSize": 20, "fontWeight": "bold", "fontStyle": "italic"}, "encoding": {"text": {"field": "txt"}, "fill": {"field": "s", "type": "nominal", "scale": {"domain": ["Fed","Starved","Sucralose","Glucose","Glucose1hr"], "range": ["#000000","#8c8c8c","#5b9bd5","#00b050","#1e9b1e"]}, "legend": null}}},
      {"transform": [{"filter": "datum.k == 'st'"}], "mark": {"type": "text", "fontSize": 19, "fontWeight": "bold", "dy": 5}, "encoding": {"text": {"field": "txt"}, "fill": {"field": "s", "type": "nominal", "legend": null}}},
      {"transform": [{"filter": "datum.k == 'pre'"}], "mark": {"type": "text", "align": "left", "baseline": "top", "fontSize": 35, "fontWeight": "bold", "color": "#5b9bd5", "dx": 0, "dy": -38}, "encoding": {"text": {"field": "txt"}}},
      {"transform": [{"filter": "datum.k == 'g'"}], "mark": {"type": "text", "align": "left", "baseline": "top", "fontSize": 35, "fontWeight": "bold", "fontStyle": "italic", "color": "#5b9bd5", "dx": 68, "dy": -38}, "encoding": {"text": {"field": "txt"}}},
      {"transform": [{"filter": "datum.k == 'sup'"}], "mark": {"type": "text", "align": "left", "baseline": "top", "fontSize": 21, "fontWeight": "bold", "fontStyle": "italic", "color": "#5b9bd5", "dx": 88, "dy": -39}, "encoding": {"text": {"field": "txt"}}},
      {"transform": [{"filter": "datum.k == 'g2'"}], "mark": {"type": "text", "align": "left", "baseline": "top", "fontSize": 35, "fontWeight": "bold", "fontStyle": "italic", "color": "#5b9bd5", "dx": 97, "dy": -38}, "encoding": {"text": {"field": "txt"}}},
      {"transform": [{"filter": "datum.k == 'sup2'"}], "mark": {"type": "text", "align": "left", "baseline": "top", "fontSize": 21, "fontWeight": "bold", "fontStyle": "italic", "color": "#5b9bd5", "dx": 126, "dy": -39}, "encoding": {"text": {"field": "txt"}}}
     ]
    },
    {
     "width": 267, "height": 236,
     "data": {"name": "all"},
     "transform": [{"filter": "datum.p == 'C1'"}],
     "encoding": {
      "x": {"field": "x", "type": "quantitative", "scale": {"domain": [0.5, 4.5], "nice": false, "zero": false}, "axis": {"values": [0.5, 1.5, 2.5, 3.5, 4.5], "labels": false, "title": null}},
      "y": {"field": "y", "type": "quantitative", "scale": {"domain": [20, 27], "nice": false, "zero": false}, "axis": {"values": [20, 21, 22, 23, 24, 25, 26, 27], "title": "Preferred temp. (°C)", "titleX": -53, "gridOpacity": {"condition": {"test": "datum.value == 20 || datum.value == 27", "value": 0}, "value": 1}}}
     },
     "layer": [
      {"transform": [{"filter": "datum.k == 'pt'"}], "mark": {"type": "errorbar", "ticks": true, "size": 7, "thickness": 3}, "encoding": {"yError": {"field": "e"}, "color": {"field": "s", "type": "nominal", "scale": {"domain": ["Fed","Starved","Sucralose","Glucose","Glucose1hr"], "range": ["#000000","#7f7f7f","#5b9bd5","#00b050","#006400"]}, "legend": null}}},
      {"transform": [{"filter": "datum.k == 'pt' && datum.s != 'Fed'"}], "mark": {"type": "line", "strokeWidth": 4}, "encoding": {"color": {"field": "s", "type": "nominal", "legend": null}}},
      {"transform": [{"filter": "datum.k == 'pt' && datum.s != 'Fed'"}], "mark": {"type": "point", "filled": true, "opacity": 1, "size": 280}, "encoding": {"color": {"field": "s", "type": "nominal", "legend": null}, "shape": {"field": "s", "type": "nominal", "scale": {"domain": ["Fed","Starved","Sucralose","Glucose","Glucose1hr"], "range": ["circle","triangle-up","square","square","square"]}, "legend": null}}},
      {"transform": [{"filter": "datum.k == 'pt' && datum.s == 'Fed'"}], "mark": {"type": "line", "strokeWidth": 4, "color": "#000000"}},
      {"transform": [{"filter": "datum.k == 'pt' && datum.s == 'Fed'"}], "mark": {"type": "point", "shape": "circle", "filled": true, "opacity": 1, "size": 230, "color": "#000000"}},
      {"transform": [{"filter": "datum.k == 'pt' && datum.s == 'Fed'"}], "mark": {"type": "point", "shape": "circle", "filled": true, "opacity": 1, "size": 140, "color": "#ffffff"}},
      {"transform": [{"filter": "datum.k == 'n'"}], "mark": {"type": "text", "fontSize": 20, "fontWeight": "bold", "fontStyle": "italic"}, "encoding": {"text": {"field": "txt"}, "fill": {"field": "s", "type": "nominal", "scale": {"domain": ["Fed","Starved","Sucralose","Glucose","Glucose1hr"], "range": ["#000000","#8c8c8c","#5b9bd5","#00b050","#1e9b1e"]}, "legend": null}}},
      {"transform": [{"filter": "datum.k == 'st'"}], "mark": {"type": "text", "fontSize": 19, "fontWeight": "bold", "dy": 5}, "encoding": {"text": {"field": "txt"}, "fill": {"field": "s", "type": "nominal", "legend": null}}},
      {"transform": [{"filter": "datum.k == 'pre'"}], "mark": {"type": "text", "align": "left", "baseline": "top", "fontSize": 35, "fontWeight": "bold", "color": "#5b9bd5", "dx": 0, "dy": -38}, "encoding": {"text": {"field": "txt"}}},
      {"transform": [{"filter": "datum.k == 'g'"}], "mark": {"type": "text", "align": "left", "baseline": "top", "fontSize": 35, "fontWeight": "bold", "fontStyle": "italic", "color": "#5b9bd5", "dx": 72, "dy": -38}, "encoding": {"text": {"field": "txt"}}},
      {"transform": [{"filter": "datum.k == 'sup'"}], "mark": {"type": "text", "align": "left", "baseline": "top", "fontSize": 21, "fontWeight": "bold", "fontStyle": "italic", "color": "#5b9bd5", "dx": 128, "dy": -39}, "encoding": {"text": {"field": "txt"}}}
     ]
    },
    {
     "width": 267, "height": 236,
     "data": {"name": "all"},
     "transform": [{"filter": "datum.p == 'D1'"}],
     "encoding": {
      "x": {"field": "x", "type": "quantitative", "scale": {"domain": [0.5, 4.5], "nice": false, "zero": false}, "axis": {"values": [0.5, 1, 1.5, 2, 2.5, 3, 3.5, 4, 4.5], "labelExpr": "datum.value == 1 ? '1-3' : datum.value == 2 ? '4-6' : datum.value == 3 ? '7-9' : datum.value == 4 ? '10-12' : ''", "tickOpacity": {"condition": {"test": "datum.value % 1 == 0", "value": 0}, "value": 1}, "title": "Zeitgeber time (ZT; hr)", "titleY": 40}},
      "y": {"field": "y", "type": "quantitative", "scale": {"domain": [20, 27], "nice": false, "zero": false}, "axis": {"values": [20, 21, 22, 23, 24, 25, 26, 27], "title": "Preferred temp. (°C)", "titleX": -53, "gridOpacity": {"condition": {"test": "datum.value == 20 || datum.value == 27", "value": 0}, "value": 1}}}
     },
     "layer": [
      {"transform": [{"filter": "datum.k == 'pt'"}], "mark": {"type": "errorbar", "ticks": true, "size": 7, "thickness": 3}, "encoding": {"yError": {"field": "e"}, "color": {"field": "s", "type": "nominal", "scale": {"domain": ["Fed","Starved","Sucralose","Glucose","Glucose1hr"], "range": ["#000000","#7f7f7f","#5b9bd5","#00b050","#006400"]}, "legend": null}}},
      {"transform": [{"filter": "datum.k == 'pt' && datum.s != 'Fed'"}], "mark": {"type": "line", "strokeWidth": 4}, "encoding": {"color": {"field": "s", "type": "nominal", "legend": null}}},
      {"transform": [{"filter": "datum.k == 'pt' && datum.s != 'Fed'"}], "mark": {"type": "point", "filled": true, "opacity": 1, "size": 280}, "encoding": {"color": {"field": "s", "type": "nominal", "legend": null}, "shape": {"field": "s", "type": "nominal", "scale": {"domain": ["Fed","Starved","Sucralose","Glucose","Glucose1hr"], "range": ["circle","triangle-up","square","square","square"]}, "legend": null}}},
      {"transform": [{"filter": "datum.k == 'pt' && datum.s == 'Fed'"}], "mark": {"type": "line", "strokeWidth": 4, "color": "#000000"}},
      {"transform": [{"filter": "datum.k == 'pt' && datum.s == 'Fed'"}], "mark": {"type": "point", "shape": "circle", "filled": true, "opacity": 1, "size": 230, "color": "#000000"}},
      {"transform": [{"filter": "datum.k == 'pt' && datum.s == 'Fed'"}], "mark": {"type": "point", "shape": "circle", "filled": true, "opacity": 1, "size": 140, "color": "#ffffff"}},
      {"transform": [{"filter": "datum.k == 'n'"}], "mark": {"type": "text", "fontSize": 20, "fontWeight": "bold", "fontStyle": "italic"}, "encoding": {"text": {"field": "txt"}, "fill": {"field": "s", "type": "nominal", "scale": {"domain": ["Fed","Starved","Sucralose","Glucose","Glucose1hr"], "range": ["#000000","#8c8c8c","#5b9bd5","#00b050","#1e9b1e"]}, "legend": null}}},
      {"transform": [{"filter": "datum.k == 'st'"}], "mark": {"type": "text", "fontSize": 19, "fontWeight": "bold", "dy": 5}, "encoding": {"text": {"field": "txt"}, "fill": {"field": "s", "type": "nominal", "legend": null}}},
      {"transform": [{"filter": "datum.k == 'pre'"}], "mark": {"type": "text", "align": "left", "baseline": "top", "fontSize": 35, "fontWeight": "bold", "color": "#5b9bd5", "dx": 0, "dy": -38}, "encoding": {"text": {"field": "txt"}}},
      {"transform": [{"filter": "datum.k == 'g'"}], "mark": {"type": "text", "align": "left", "baseline": "top", "fontSize": 35, "fontWeight": "bold", "fontStyle": "italic", "color": "#5b9bd5", "dx": 72, "dy": -38}, "encoding": {"text": {"field": "txt"}}},
      {"transform": [{"filter": "datum.k == 'sup'"}], "mark": {"type": "text", "align": "left", "baseline": "top", "fontSize": 21, "fontWeight": "bold", "fontStyle": "italic", "color": "#5b9bd5", "dx": 126, "dy": -39}, "encoding": {"text": {"field": "txt"}}}
     ]
    }
   ]
  },
  {"width": 55, "height": 1, "view": {"stroke": null}, "data": {"values": [{"txt": ""}]}, "mark": {"type": "text"}, "encoding": {"text": {"field": "txt"}}},
  {
   "spacing": 54,
   "bounds": "flush",
   "vconcat": [
    {
     "width": 266, "height": 236,
     "data": {"name": "all"},
     "transform": [{"filter": "datum.p == 'A2'"}],
     "encoding": {
      "x": {"field": "x", "type": "quantitative", "scale": {"domain": [0.5, 4.5], "nice": false, "zero": false}, "axis": {"values": [0.5, 1.5, 2.5, 3.5, 4.5], "labels": false, "title": null}},
      "y": {"field": "y", "type": "quantitative", "scale": {"domain": [20, 27], "nice": false, "zero": false}, "axis": {"values": [20, 21, 22, 23, 24, 25, 26, 27], "title": "Preferred temp. (°C)", "titleX": -53, "gridOpacity": {"condition": {"test": "datum.value == 20 || datum.value == 27", "value": 0}, "value": 1}}}
     },
     "layer": [
      {"transform": [{"filter": "datum.k == 'pt'"}], "mark": {"type": "errorbar", "ticks": true, "size": 7, "thickness": 3}, "encoding": {"yError": {"field": "e"}, "color": {"field": "s", "type": "nominal", "scale": {"domain": ["Fed","Starved","Sucralose","Glucose","Glucose1hr"], "range": ["#000000","#7f7f7f","#5b9bd5","#00b050","#006400"]}, "legend": null}}},
      {"transform": [{"filter": "datum.k == 'pt' && datum.s != 'Fed'"}], "mark": {"type": "line", "strokeWidth": 4}, "encoding": {"color": {"field": "s", "type": "nominal", "legend": null}}},
      {"transform": [{"filter": "datum.k == 'pt' && datum.s != 'Fed'"}], "mark": {"type": "point", "filled": true, "opacity": 1, "size": 280}, "encoding": {"color": {"field": "s", "type": "nominal", "legend": null}, "shape": {"field": "s", "type": "nominal", "scale": {"domain": ["Fed","Starved","Sucralose","Glucose","Glucose1hr"], "range": ["circle","triangle-up","square","square","square"]}, "legend": null}}},
      {"transform": [{"filter": "datum.k == 'pt' && datum.s == 'Fed'"}], "mark": {"type": "line", "strokeWidth": 4, "color": "#000000"}},
      {"transform": [{"filter": "datum.k == 'pt' && datum.s == 'Fed'"}], "mark": {"type": "point", "shape": "circle", "filled": true, "opacity": 1, "size": 230, "color": "#000000"}},
      {"transform": [{"filter": "datum.k == 'pt' && datum.s == 'Fed'"}], "mark": {"type": "point", "shape": "circle", "filled": true, "opacity": 1, "size": 140, "color": "#ffffff"}},
      {"transform": [{"filter": "datum.k == 'n'"}], "mark": {"type": "text", "fontSize": 20, "fontWeight": "bold", "fontStyle": "italic"}, "encoding": {"text": {"field": "txt"}, "fill": {"field": "s", "type": "nominal", "scale": {"domain": ["Fed","Starved","Sucralose","Glucose","Glucose1hr"], "range": ["#000000","#8c8c8c","#5b9bd5","#00b050","#1e9b1e"]}, "legend": null}}},
      {"transform": [{"filter": "datum.k == 'st'"}], "mark": {"type": "text", "fontSize": 19, "fontWeight": "bold", "dy": 5}, "encoding": {"text": {"field": "txt"}, "fill": {"field": "s", "type": "nominal", "legend": null}}},
      {"transform": [{"filter": "datum.k == 'pre'"}], "mark": {"type": "text", "align": "left", "baseline": "top", "fontSize": 35, "fontWeight": "bold", "color": "#00b050", "dx": 15, "dy": -38}, "encoding": {"text": {"field": "txt"}}},
      {"transform": [{"filter": "datum.k == 'g'"}], "mark": {"type": "text", "align": "left", "baseline": "top", "fontSize": 35, "fontWeight": "bold", "fontStyle": "italic", "color": "#00b050", "dx": 85, "dy": -38}, "encoding": {"text": {"field": "txt"}}},
      {"transform": [{"filter": "datum.k == 'sup'"}], "mark": {"type": "text", "align": "left", "baseline": "top", "fontSize": 21, "fontWeight": "bold", "fontStyle": "italic", "color": "#00b050", "dx": 114, "dy": -39}, "encoding": {"text": {"field": "txt"}}}
     ]
    },
    {
     "width": 266, "height": 236,
     "data": {"name": "all"},
     "transform": [{"filter": "datum.p == 'B2'"}],
     "encoding": {
      "x": {"field": "x", "type": "quantitative", "scale": {"domain": [0.5, 4.5], "nice": false, "zero": false}, "axis": {"values": [0.5, 1.5, 2.5, 3.5, 4.5], "labels": false, "title": null}},
      "y": {"field": "y", "type": "quantitative", "scale": {"domain": [20, 27], "nice": false, "zero": false}, "axis": {"values": [20, 21, 22, 23, 24, 25, 26, 27], "title": "Preferred temp. (°C)", "titleX": -53, "gridOpacity": {"condition": {"test": "datum.value == 20 || datum.value == 27", "value": 0}, "value": 1}}}
     },
     "layer": [
      {"transform": [{"filter": "datum.k == 'pt'"}], "mark": {"type": "errorbar", "ticks": true, "size": 7, "thickness": 3}, "encoding": {"yError": {"field": "e"}, "color": {"field": "s", "type": "nominal", "scale": {"domain": ["Fed","Starved","Sucralose","Glucose","Glucose1hr"], "range": ["#000000","#7f7f7f","#5b9bd5","#00b050","#006400"]}, "legend": null}}},
      {"transform": [{"filter": "datum.k == 'pt' && datum.s != 'Fed'"}], "mark": {"type": "line", "strokeWidth": 4}, "encoding": {"color": {"field": "s", "type": "nominal", "legend": null}}},
      {"transform": [{"filter": "datum.k == 'pt' && datum.s != 'Fed'"}], "mark": {"type": "point", "filled": true, "opacity": 1, "size": 280}, "encoding": {"color": {"field": "s", "type": "nominal", "legend": null}, "shape": {"field": "s", "type": "nominal", "scale": {"domain": ["Fed","Starved","Sucralose","Glucose","Glucose1hr"], "range": ["circle","triangle-up","square","square","square"]}, "legend": null}}},
      {"transform": [{"filter": "datum.k == 'pt' && datum.s == 'Fed'"}], "mark": {"type": "line", "strokeWidth": 4, "color": "#000000"}},
      {"transform": [{"filter": "datum.k == 'pt' && datum.s == 'Fed'"}], "mark": {"type": "point", "shape": "circle", "filled": true, "opacity": 1, "size": 230, "color": "#000000"}},
      {"transform": [{"filter": "datum.k == 'pt' && datum.s == 'Fed'"}], "mark": {"type": "point", "shape": "circle", "filled": true, "opacity": 1, "size": 140, "color": "#ffffff"}},
      {"transform": [{"filter": "datum.k == 'n'"}], "mark": {"type": "text", "fontSize": 20, "fontWeight": "bold", "fontStyle": "italic"}, "encoding": {"text": {"field": "txt"}, "fill": {"field": "s", "type": "nominal", "scale": {"domain": ["Fed","Starved","Sucralose","Glucose","Glucose1hr"], "range": ["#000000","#8c8c8c","#5b9bd5","#00b050","#1e9b1e"]}, "legend": null}}},
      {"transform": [{"filter": "datum.k == 'st'"}], "mark": {"type": "text", "fontSize": 19, "fontWeight": "bold", "dy": 5}, "encoding": {"text": {"field": "txt"}, "fill": {"field": "s", "type": "nominal", "legend": null}}},
      {"transform": [{"filter": "datum.k == 'pre'"}], "mark": {"type": "text", "align": "left", "baseline": "top", "fontSize": 35, "fontWeight": "bold", "color": "#00b050", "dx": 15, "dy": -38}, "encoding": {"text": {"field": "txt"}}},
      {"transform": [{"filter": "datum.k == 'g'"}], "mark": {"type": "text", "align": "left", "baseline": "top", "fontSize": 35, "fontWeight": "bold", "fontStyle": "italic", "color": "#00b050", "dx": 83, "dy": -38}, "encoding": {"text": {"field": "txt"}}},
      {"transform": [{"filter": "datum.k == 'sup'"}], "mark": {"type": "text", "align": "left", "baseline": "top", "fontSize": 21, "fontWeight": "bold", "fontStyle": "italic", "color": "#00b050", "dx": 103, "dy": -39}, "encoding": {"text": {"field": "txt"}}},
      {"transform": [{"filter": "datum.k == 'g2'"}], "mark": {"type": "text", "align": "left", "baseline": "top", "fontSize": 35, "fontWeight": "bold", "fontStyle": "italic", "color": "#00b050", "dx": 112, "dy": -38}, "encoding": {"text": {"field": "txt"}}},
      {"transform": [{"filter": "datum.k == 'sup2'"}], "mark": {"type": "text", "align": "left", "baseline": "top", "fontSize": 21, "fontWeight": "bold", "fontStyle": "italic", "color": "#00b050", "dx": 141, "dy": -39}, "encoding": {"text": {"field": "txt"}}}
     ]
    },
    {
     "width": 266, "height": 236,
     "data": {"name": "all"},
     "transform": [{"filter": "datum.p == 'C2'"}],
     "encoding": {
      "x": {"field": "x", "type": "quantitative", "scale": {"domain": [0.5, 4.5], "nice": false, "zero": false}, "axis": {"values": [0.5, 1.5, 2.5, 3.5, 4.5], "labels": false, "title": null}},
      "y": {"field": "y", "type": "quantitative", "scale": {"domain": [20, 27], "nice": false, "zero": false}, "axis": {"values": [20, 21, 22, 23, 24, 25, 26, 27], "title": "Preferred temp. (°C)", "titleX": -53, "gridOpacity": {"condition": {"test": "datum.value == 20 || datum.value == 27", "value": 0}, "value": 1}}}
     },
     "layer": [
      {"transform": [{"filter": "datum.k == 'pt'"}], "mark": {"type": "errorbar", "ticks": true, "size": 7, "thickness": 3}, "encoding": {"yError": {"field": "e"}, "color": {"field": "s", "type": "nominal", "scale": {"domain": ["Fed","Starved","Sucralose","Glucose","Glucose1hr"], "range": ["#000000","#7f7f7f","#5b9bd5","#00b050","#006400"]}, "legend": null}}},
      {"transform": [{"filter": "datum.k == 'pt' && datum.s != 'Fed'"}], "mark": {"type": "line", "strokeWidth": 4}, "encoding": {"color": {"field": "s", "type": "nominal", "legend": null}}},
      {"transform": [{"filter": "datum.k == 'pt' && datum.s != 'Fed'"}], "mark": {"type": "point", "filled": true, "opacity": 1, "size": 280}, "encoding": {"color": {"field": "s", "type": "nominal", "legend": null}, "shape": {"field": "s", "type": "nominal", "scale": {"domain": ["Fed","Starved","Sucralose","Glucose","Glucose1hr"], "range": ["circle","triangle-up","square","square","square"]}, "legend": null}}},
      {"transform": [{"filter": "datum.k == 'pt' && datum.s == 'Fed'"}], "mark": {"type": "line", "strokeWidth": 4, "color": "#000000"}},
      {"transform": [{"filter": "datum.k == 'pt' && datum.s == 'Fed'"}], "mark": {"type": "point", "shape": "circle", "filled": true, "opacity": 1, "size": 230, "color": "#000000"}},
      {"transform": [{"filter": "datum.k == 'pt' && datum.s == 'Fed'"}], "mark": {"type": "point", "shape": "circle", "filled": true, "opacity": 1, "size": 140, "color": "#ffffff"}},
      {"transform": [{"filter": "datum.k == 'n'"}], "mark": {"type": "text", "fontSize": 20, "fontWeight": "bold", "fontStyle": "italic"}, "encoding": {"text": {"field": "txt"}, "fill": {"field": "s", "type": "nominal", "scale": {"domain": ["Fed","Starved","Sucralose","Glucose","Glucose1hr"], "range": ["#000000","#8c8c8c","#5b9bd5","#00b050","#1e9b1e"]}, "legend": null}}},
      {"transform": [{"filter": "datum.k == 'st'"}], "mark": {"type": "text", "fontSize": 19, "fontWeight": "bold", "dy": 5}, "encoding": {"text": {"field": "txt"}, "fill": {"field": "s", "type": "nominal", "legend": null}}},
      {"transform": [{"filter": "datum.k == 'pre'"}], "mark": {"type": "text", "align": "left", "baseline": "top", "fontSize": 35, "fontWeight": "bold", "color": "#00b050", "dx": 15, "dy": -38}, "encoding": {"text": {"field": "txt"}}},
      {"transform": [{"filter": "datum.k == 'g'"}], "mark": {"type": "text", "align": "left", "baseline": "top", "fontSize": 35, "fontWeight": "bold", "fontStyle": "italic", "color": "#00b050", "dx": 87, "dy": -38}, "encoding": {"text": {"field": "txt"}}},
      {"transform": [{"filter": "datum.k == 'sup'"}], "mark": {"type": "text", "align": "left", "baseline": "top", "fontSize": 21, "fontWeight": "bold", "fontStyle": "italic", "color": "#00b050", "dx": 143, "dy": -39}, "encoding": {"text": {"field": "txt"}}}
     ]
    },
    {
     "width": 266, "height": 236,
     "data": {"name": "all"},
     "transform": [{"filter": "datum.p == 'D2'"}],
     "encoding": {
      "x": {"field": "x", "type": "quantitative", "scale": {"domain": [0.5, 4.5], "nice": false, "zero": false}, "axis": {"values": [0.5, 1, 1.5, 2, 2.5, 3, 3.5, 4, 4.5], "labelExpr": "datum.value == 1 ? '1-3' : datum.value == 2 ? '4-6' : datum.value == 3 ? '7-9' : datum.value == 4 ? '10-12' : ''", "tickOpacity": {"condition": {"test": "datum.value % 1 == 0", "value": 0}, "value": 1}, "title": "Zeitgeber time (ZT; hr)", "titleY": 40}},
      "y": {"field": "y", "type": "quantitative", "scale": {"domain": [20, 27], "nice": false, "zero": false}, "axis": {"values": [20, 21, 22, 23, 24, 25, 26, 27], "title": "Preferred temp. (°C)", "titleX": -53, "gridOpacity": {"condition": {"test": "datum.value == 20 || datum.value == 27", "value": 0}, "value": 1}}}
     },
     "layer": [
      {"transform": [{"filter": "datum.k == 'pt'"}], "mark": {"type": "errorbar", "ticks": true, "size": 7, "thickness": 3}, "encoding": {"yError": {"field": "e"}, "color": {"field": "s", "type": "nominal", "scale": {"domain": ["Fed","Starved","Sucralose","Glucose","Glucose1hr"], "range": ["#000000","#7f7f7f","#5b9bd5","#00b050","#006400"]}, "legend": null}}},
      {"transform": [{"filter": "datum.k == 'pt' && datum.s != 'Fed'"}], "mark": {"type": "line", "strokeWidth": 4}, "encoding": {"color": {"field": "s", "type": "nominal", "legend": null}}},
      {"transform": [{"filter": "datum.k == 'pt' && datum.s != 'Fed'"}], "mark": {"type": "point", "filled": true, "opacity": 1, "size": 280}, "encoding": {"color": {"field": "s", "type": "nominal", "legend": null}, "shape": {"field": "s", "type": "nominal", "scale": {"domain": ["Fed","Starved","Sucralose","Glucose","Glucose1hr"], "range": ["circle","triangle-up","square","square","square"]}, "legend": null}}},
      {"transform": [{"filter": "datum.k == 'pt' && datum.s == 'Fed'"}], "mark": {"type": "line", "strokeWidth": 4, "color": "#000000"}},
      {"transform": [{"filter": "datum.k == 'pt' && datum.s == 'Fed'"}], "mark": {"type": "point", "shape": "circle", "filled": true, "opacity": 1, "size": 230, "color": "#000000"}},
      {"transform": [{"filter": "datum.k == 'pt' && datum.s == 'Fed'"}], "mark": {"type": "point", "shape": "circle", "filled": true, "opacity": 1, "size": 140, "color": "#ffffff"}},
      {"transform": [{"filter": "datum.k == 'n'"}], "mark": {"type": "text", "fontSize": 20, "fontWeight": "bold", "fontStyle": "italic"}, "encoding": {"text": {"field": "txt"}, "fill": {"field": "s", "type": "nominal", "scale": {"domain": ["Fed","Starved","Sucralose","Glucose","Glucose1hr"], "range": ["#000000","#8c8c8c","#5b9bd5","#00b050","#1e9b1e"]}, "legend": null}}},
      {"transform": [{"filter": "datum.k == 'st'"}], "mark": {"type": "text", "fontSize": 19, "fontWeight": "bold", "dy": 5}, "encoding": {"text": {"field": "txt"}, "fill": {"field": "s", "type": "nominal", "legend": null}}},
      {"transform": [{"filter": "datum.k == 'pre'"}], "mark": {"type": "text", "align": "left", "baseline": "top", "fontSize": 35, "fontWeight": "bold", "color": "#00b050", "dx": 15, "dy": -38}, "encoding": {"text": {"field": "txt"}}},
      {"transform": [{"filter": "datum.k == 'g'"}], "mark": {"type": "text", "align": "left", "baseline": "top", "fontSize": 35, "fontWeight": "bold", "fontStyle": "italic", "color": "#00b050", "dx": 87, "dy": -38}, "encoding": {"text": {"field": "txt"}}},
      {"transform": [{"filter": "datum.k == 'sup'"}], "mark": {"type": "text", "align": "left", "baseline": "top", "fontSize": 21, "fontWeight": "bold", "fontStyle": "italic", "color": "#00b050", "dx": 141, "dy": -39}, "encoding": {"text": {"field": "txt"}}}
     ]
    }
   ]
  },
  {"width": 5, "height": 1, "view": {"stroke": null}, "data": {"values": [{"txt": ""}]}, "mark": {"type": "text"}, "encoding": {"text": {"field": "txt"}}},
  {
   "spacing": 0,
   "resolve": {"scale": {"color": "independent"}},
   "vconcat": [
    {
     "spacing": 0,
     "hconcat": [
      {"width": 7, "height": 1, "view": {"stroke": null}, "data": {"values": [{"txt": ""}]}, "mark": {"type": "text"}, "encoding": {"text": {"field": "txt"}}},
      {
       "width": 270, "height": 237,
       "data": {"name": "all"},
       "transform": [{"filter": "datum.p == 'A3'"}],
       "encoding": {
        "x": {"field": "x", "type": "quantitative", "scale": {"domain": [0.5, 4.5], "nice": false, "zero": false}, "axis": {"values": [0.5, 1, 1.5, 2, 2.5, 3, 3.5, 4, 4.5], "labelExpr": "datum.value == 1 ? '1-3' : datum.value == 2 ? '4-6' : datum.value == 3 ? '7-9' : datum.value == 4 ? '10-12' : ''", "tickOpacity": {"condition": {"test": "datum.value % 1 == 0", "value": 0}, "value": 1}, "labelPadding": 1, "title": "Zeitgeber time (ZT; hr)", "titleY": 35}},
        "y": {"field": "y", "type": "quantitative", "scale": {"domain": [20, 27], "nice": false, "zero": false}, "axis": {"values": [20, 21, 22, 23, 24, 25, 26, 27], "title": "Preferred temp. (°C)", "titleX": -53, "gridOpacity": {"condition": {"test": "datum.value == 20 || datum.value == 27", "value": 0}, "value": 1}}}
       },
       "layer": [
        {"transform": [{"filter": "datum.k == 'pt'"}], "mark": {"type": "errorbar", "ticks": true, "size": 7, "thickness": 3}, "encoding": {"yError": {"field": "e"}, "color": {"field": "s", "type": "nominal", "scale": {"domain": ["Fed","Starved","Sucralose","Glucose","Glucose1hr"], "range": ["#000000","#7f7f7f","#5b9bd5","#00b050","#006400"]}, "legend": null}}},
        {"transform": [{"filter": "datum.k == 'pt' && datum.s != 'Fed'"}], "mark": {"type": "line", "strokeWidth": 4}, "encoding": {"color": {"field": "s", "type": "nominal", "legend": null}}},
        {"transform": [{"filter": "datum.k == 'pt' && datum.s != 'Fed'"}], "mark": {"type": "point", "filled": true, "opacity": 1, "size": 280}, "encoding": {"color": {"field": "s", "type": "nominal", "legend": null}, "shape": {"field": "s", "type": "nominal", "scale": {"domain": ["Fed","Starved","Sucralose","Glucose","Glucose1hr"], "range": ["circle","triangle-up","square","square","square"]}, "legend": null}}},
        {"transform": [{"filter": "datum.k == 'pt' && datum.s == 'Fed'"}], "mark": {"type": "line", "strokeWidth": 4, "color": "#000000"}},
        {"transform": [{"filter": "datum.k == 'pt' && datum.s == 'Fed'"}], "mark": {"type": "point", "shape": "circle", "filled": true, "opacity": 1, "size": 230, "color": "#000000"}},
        {"transform": [{"filter": "datum.k == 'pt' && datum.s == 'Fed'"}], "mark": {"type": "point", "shape": "circle", "filled": true, "opacity": 1, "size": 140, "color": "#ffffff"}},
        {"transform": [{"filter": "datum.k == 'n'"}], "mark": {"type": "text", "fontSize": 20, "fontWeight": "bold", "fontStyle": "italic"}, "encoding": {"text": {"field": "txt"}, "fill": {"field": "s", "type": "nominal", "scale": {"domain": ["Fed","Starved","Sucralose","Glucose","Glucose1hr"], "range": ["#000000","#8c8c8c","#5b9bd5","#00b050","#1e9b1e"]}, "legend": null}}},
        {"transform": [{"filter": "datum.k == 'st'"}], "mark": {"type": "text", "fontSize": 19, "fontWeight": "bold", "dy": 5}, "encoding": {"text": {"field": "txt"}, "fill": {"field": "s", "type": "nominal", "legend": null}}},
        {"transform": [{"filter": "datum.k == 'pre'"}], "mark": {"type": "text", "align": "left", "baseline": "top", "fontSize": 35, "fontWeight": "bold", "color": "#006400", "dx": 30, "dy": -38}, "encoding": {"text": {"field": "txt"}}},
        {"transform": [{"filter": "datum.k == 'g'"}], "mark": {"type": "text", "align": "left", "baseline": "top", "fontSize": 35, "fontWeight": "bold", "fontStyle": "italic", "color": "#006400", "dx": 100, "dy": -38}, "encoding": {"text": {"field": "txt"}}},
        {"transform": [{"filter": "datum.k == 'sup'"}], "mark": {"type": "text", "align": "left", "baseline": "top", "fontSize": 21, "fontWeight": "bold", "fontStyle": "italic", "color": "#006400", "dx": 129, "dy": -39}, "encoding": {"text": {"field": "txt"}}}
       ]
      }
     ]
    },
    {"width": 1, "height": 647, "view": {"stroke": null}, "data": {"values": [{"txt": ""}]}, "mark": {"type": "text"}, "encoding": {"text": {"field": "txt"}}},
    {
     "width": 412, "height": 168,
     "view": {"stroke": "#333333", "strokeWidth": 2.5, "fill": "#ffffff"},
     "data": {"values": [
      {"s": "Fed", "txt": "Fed"},
      {"s": "Starved", "txt": "Starved"},
      {"s": "Sucralose", "txt": "Refed Sucralose for 10min"},
      {"s": "Glucose", "txt": "Refed Glucose for 10min"},
      {"s": "Glucose1hr", "txt": "Refed Glucose for 1hr"}
     ]},
     "encoding": {
      "y": {"field": "s", "type": "nominal", "scale": {"type": "point", "domain": ["Fed","Starved","Sucralose","Glucose","Glucose1hr"], "padding": 0.92}, "axis": null},
      "color": {"field": "s", "type": "nominal", "scale": {"domain": ["Fed","Starved","Sucralose","Glucose","Glucose1hr"], "range": ["#000000","#a6a6a6","#5b9bd5","#00b050","#006400"]}, "legend": null}
     },
     "layer": [
      {"mark": {"type": "point", "shape": "stroke", "size": 3025, "strokeWidth": 5, "opacity": 1}, "encoding": {"x": {"datum": 0.132, "type": "quantitative", "scale": {"domain": [0, 1], "nice": false, "zero": false}, "axis": null}}},
      {"mark": {"type": "text", "align": "left", "baseline": "middle", "fontSize": 23, "fontWeight": "bold"}, "encoding": {"x": {"datum": 0.221, "type": "quantitative"}, "text": {"field": "txt"}}}
     ]
    }
   ]
  }
 ]
},
{"width": 1, "height": 16, "view": {"stroke": null}, "data": {"values": [{"txt": ""}]}, "mark": {"type": "text"}, "encoding": {"text": {"field": "txt"}}},
{
 "spacing": 0,
 "bounds": "flush",
 "hconcat": [
  {"width": 21, "height": 38, "view": {"stroke": null}, "data": {"values": [{"txt": ""}]}, "mark": {"type": "text"}, "encoding": {"text": {"field": "txt"}}},
  {"width": 60, "height": 38, "view": {"stroke": null}, "data": {"values": [{"txt": "E"}]}, "mark": {"type": "text", "fontSize": 38, "fontWeight": "bold", "color": "#1a1a1a", "dy": 1}, "encoding": {"text": {"field": "txt"}}},
  {"width": 158, "height": 189, "view": {"stroke": null}, "data": {"name": "tbl"}, "transform": [{"filter": "datum.col == 'LD'"}],
   "encoding": {"y": {"field": "row", "type": "nominal", "scale": {"domain": ["h","A","B","C","D"], "paddingInner": 0, "paddingOuter": 0}, "axis": null}},
   "layer": [
    {"mark": {"type": "rect", "stroke": "#1a1a1a", "strokeWidth": 2, "fill": "#ffffff"}},
    {"transform": [{"filter": "datum.row == 'h'"}], "mark": {"type": "text", "fontSize": 25, "fontWeight": "bold", "color": "#000000", "dy": 2}, "encoding": {"text": {"field": "txt"}}},
    {"transform": [{"filter": "datum.row != 'h'"}], "mark": {"type": "text", "fontSize": 26, "color": "#000000", "dy": 3}, "encoding": {"text": {"field": "txt"}}}
   ]},
  {"width": 150, "height": 189, "view": {"stroke": null}, "data": {"name": "tbl"}, "transform": [{"filter": "datum.col == 'Fed'"}],
   "encoding": {"y": {"field": "row", "type": "nominal", "scale": {"domain": ["h","A","B","C","D"], "paddingInner": 0, "paddingOuter": 0}, "axis": null}},
   "layer": [
    {"mark": {"type": "rect", "stroke": "#1a1a1a", "strokeWidth": 2}, "encoding": {"fill": {"condition": {"test": "datum.row == 'h'", "value": "#1a1a1a"}, "value": "#ffffff"}}},
    {"transform": [{"filter": "datum.row == 'h'"}], "mark": {"type": "text", "fontSize": 25, "fontWeight": "bold", "color": "#ffffff", "dy": 2}, "encoding": {"text": {"field": "txt"}}},
    {"transform": [{"filter": "datum.row != 'h'"}], "mark": {"type": "text", "fontSize": 26, "color": "#000000", "dy": 3}, "encoding": {"text": {"field": "txt"}}}
   ]},
  {"width": 156, "height": 189, "view": {"stroke": null}, "data": {"name": "tbl"}, "transform": [{"filter": "datum.col == 'Starvation'"}],
   "encoding": {"y": {"field": "row", "type": "nominal", "scale": {"domain": ["h","A","B","C","D"], "paddingInner": 0, "paddingOuter": 0}, "axis": null}},
   "layer": [
    {"mark": {"type": "rect", "stroke": "#1a1a1a", "strokeWidth": 2}, "encoding": {"fill": {"condition": {"test": "datum.row == 'h'", "value": "#bfbfbf"}, "value": "#ffffff"}}},
    {"transform": [{"filter": "datum.row == 'h'"}], "mark": {"type": "text", "fontSize": 25, "fontWeight": "bold", "color": "#ffffff", "dy": 2}, "encoding": {"text": {"field": "txt"}}},
    {"transform": [{"filter": "datum.row != 'h'"}], "mark": {"type": "text", "fontSize": 26, "color": "#000000", "dy": 3}, "encoding": {"text": {"field": "txt"}}}
   ]},
  {"width": 226, "height": 189, "view": {"stroke": null}, "data": {"name": "tbl"}, "transform": [{"filter": "datum.col == 'Sucralose'"}],
   "encoding": {"y": {"field": "row", "type": "nominal", "scale": {"domain": ["h","A","B","C","D"], "paddingInner": 0, "paddingOuter": 0}, "axis": null}},
   "layer": [
    {"mark": {"type": "rect", "stroke": "#1a1a1a", "strokeWidth": 2}, "encoding": {"fill": {"condition": {"test": "datum.row == 'h'", "value": "#5b9bd5"}, "value": "#ffffff"}}},
    {"transform": [{"filter": "datum.row == 'h'"}], "mark": {"type": "text", "fontSize": 25, "fontWeight": "bold", "color": "#ffffff", "dy": 2}, "encoding": {"text": {"field": "txt"}}},
    {"transform": [{"filter": "datum.row != 'h'"}], "mark": {"type": "text", "fontSize": 26, "color": "#000000", "dy": 3}, "encoding": {"text": {"field": "txt"}}}
   ]},
  {"width": 230, "height": 189, "view": {"stroke": null}, "data": {"name": "tbl"}, "transform": [{"filter": "datum.col == 'Glucose'"}],
   "encoding": {"y": {"field": "row", "type": "nominal", "scale": {"domain": ["h","A","B","C","D"], "paddingInner": 0, "paddingOuter": 0}, "axis": null}},
   "layer": [
    {"mark": {"type": "rect", "stroke": "#1a1a1a", "strokeWidth": 2}, "encoding": {"fill": {"condition": {"test": "datum.row == 'h'", "value": "#00c400"}, "value": "#ffffff"}}},
    {"transform": [{"filter": "datum.row == 'h'"}], "mark": {"type": "text", "fontSize": 25, "fontWeight": "bold", "color": "#ffffff", "dy": 2}, "encoding": {"text": {"field": "txt"}}},
    {"transform": [{"filter": "datum.row != 'h'"}], "mark": {"type": "text", "fontSize": 26, "color": "#000000", "dy": 3}, "encoding": {"text": {"field": "txt"}}}
   ]},
  {"width": 299, "height": 189, "view": {"stroke": null}, "data": {"name": "tbl"}, "transform": [{"filter": "datum.col == 'Glucose1hr'"}],
   "encoding": {"y": {"field": "row", "type": "nominal", "scale": {"domain": ["h","A","B","C","D"], "paddingInner": 0, "paddingOuter": 0}, "axis": null}},
   "layer": [
    {"mark": {"type": "rect", "stroke": "#1a1a1a", "strokeWidth": 2}, "encoding": {"fill": {"condition": {"test": "datum.row == 'h'", "value": "#006400"}, "value": "#ffffff"}}},
    {"transform": [{"filter": "datum.row == 'h'"}], "mark": {"type": "text", "fontSize": 25, "fontWeight": "bold", "color": "#ffffff", "dy": 2}, "encoding": {"text": {"field": "txt"}}},
    {"transform": [{"filter": "datum.row != 'h'"}], "mark": {"type": "text", "fontSize": 26, "color": "#000000", "dy": 3}, "encoding": {"text": {"field": "txt"}}}
   ]}
 ]
}
]
}
